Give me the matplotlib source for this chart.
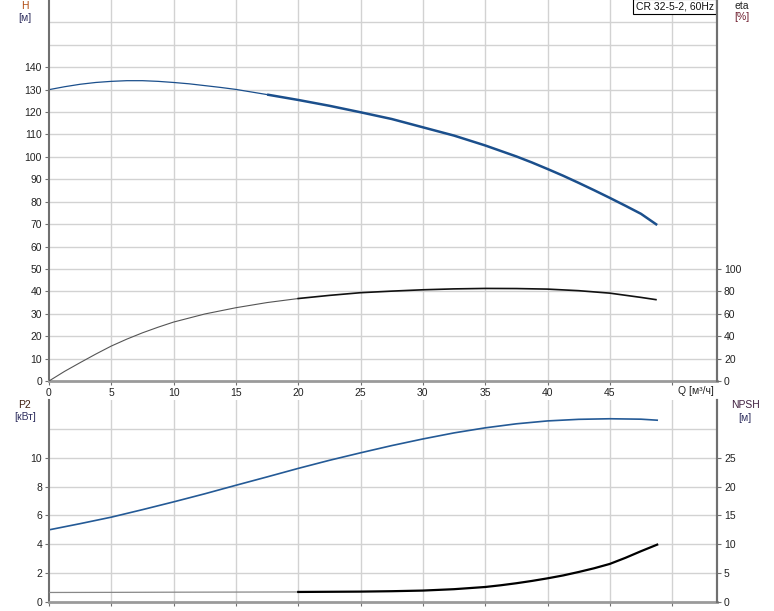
import matplotlib
matplotlib.use("Agg")
import matplotlib.pyplot as plt

plt.rcParams["font.family"] = ["Liberation Sans", "DejaVu Sans"]
plt.rcParams["font.size"] = 7.5

# Q [m3/h] sample points
q_h = [0, 1.25, 2.5, 3.75, 5, 6.25, 7.5, 8.75, 10, 11.25, 12.5, 13.75, 15, 17.5, 20, 22.5, 25, 27.5,
       30, 32.5, 35, 37.5, 38.75, 40, 41.25, 42.5, 43.75, 45, 46.25, 47.5, 48.8]
head = [130, 131.3, 132.4, 133.2, 133.7, 134, 134, 133.7, 133.2, 132.6, 131.8, 131, 130.1, 127.8,
        125.4, 122.8, 119.9, 116.9, 113.2, 109.5, 105.1, 100.2, 97.5, 94.6, 91.6, 88.4, 85.1, 81.7,
        78.2, 74.6, 69.6]

q_eta = [0, 1.25, 2.5, 3.75, 5, 6.25, 7.5, 8.75, 10, 12.5, 15, 17.5, 20, 22.5, 25, 27.5, 30, 32.5,
         35, 37.5, 40, 42.5, 45, 47.5, 48.7]
eta = [0, 8.6, 16.4, 24, 31.2, 37.4, 43, 48, 52.6, 59.8, 65.4, 70, 73.6, 76.4, 78.8, 80.2, 81.4,
       82.2, 82.6, 82.5, 82, 80.6, 78.4, 74.6, 72.6]

q_p2 = [0, 2.5, 5, 7.5, 10, 12.5, 15, 17.5, 20, 22.5, 25, 27.5, 30, 32.5, 35, 37.5, 40, 42.5, 45,
        47.5, 48.8]
p2 = [5.0, 5.43, 5.88, 6.4, 6.94, 7.5, 8.09, 8.67, 9.26, 9.82, 10.34, 10.84, 11.3, 11.72, 12.07,
      12.35, 12.55, 12.66, 12.7, 12.67, 12.6]

q_npsh = [0, 5, 10, 15, 20, 25, 27.5, 30, 32.5, 35, 36.25, 37.5, 38.75, 40, 41.25, 42.5, 43.75, 45,
          46.25, 47.5, 48.8]
npsh = [1.65, 1.67, 1.7, 1.72, 1.74, 1.8, 1.87, 1.98, 2.22, 2.6, 2.9, 3.25, 3.65, 4.1, 4.6, 5.2,
        5.85, 6.6, 7.65, 8.8, 9.94]

x_ticks = [0, 5, 10, 15, 20, 25, 30, 35, 40, 45]
h_ticks = list(range(0, 150, 10))
eta_ticks = list(range(0, 120, 20))
p2_ticks = list(range(0, 12, 2))
npsh_ticks = list(range(0, 30, 5))

W, H = 774, 611
fig = plt.figure(figsize=(W / 100, H / 100), dpi=100)

L, R = 49 / W, (717 - 49) / W
ax1 = fig.add_axes([L, 1 - 381 / H, R, 381 / H])
ax2 = fig.add_axes([L, 1 - 602 / H, R, 202 / H])

grid_c = "#d2d2d2"
spine_c = "#707070"
text_c = "#222222"


def style(ax, ylim, yticks, grid_step):
    ax.set_xlim(0, 53.6)
    ax.set_ylim(*ylim)
    for x in range(5, 55, 5):
        ax.axvline(x, color=grid_c, lw=1, zorder=0)
    y = grid_step
    while y < ylim[1] - 1e-9:
        ax.axhline(y, color=grid_c, lw=1, zorder=0)
        y += grid_step
    ax.set_yticks(yticks)
    ax.spines["top"].set_visible(False)
    ax.spines["right"].set_color(spine_c)
    ax.spines["right"].set_linewidth(1.5)
    ax.spines["left"].set_color(spine_c)
    ax.spines["left"].set_linewidth(1.5)
    ax.spines["bottom"].set_color("#9a9a9a")
    ax.spines["bottom"].set_linewidth(2)
    ax.tick_params(axis="y", length=3, width=0.8, color=spine_c, pad=2, labelcolor=text_c)
    ax.tick_params(axis="x", length=3, width=0.8, color=spine_c, pad=2, labelcolor=text_c)


style(ax1, (0, 170), h_ticks, 10)
ax1.set_xticks(x_ticks + [50])
ax1.set_xticklabels([str(v) for v in x_ticks] + [""])

style(ax2, (0, 14), p2_ticks, 2)
ax2.set_xticks(x_ticks + [50])
ax2.set_xticklabels([])

ax1e = ax1.twinx()
ax1e.set_ylim(0, 340)
ax1e.set_yticks(eta_ticks)
ax2n = ax2.twinx()
ax2n.set_ylim(0, 35)
ax2n.set_yticks(npsh_ticks)
for ax in (ax1e, ax2n):
    for s in ("top", "left", "bottom"):
        ax.spines[s].set_visible(False)
    ax.spines["right"].set_color(spine_c)
    ax.spines["right"].set_linewidth(1.5)
    ax.tick_params(axis="y", length=3, width=0.8, color=spine_c, pad=2, labelcolor=text_c)

# curves: thin part at low flow, heavier in the working range
blue = "#1b4f8c"
n = q_h.index(17.5)
ax1.plot(q_h[:n + 1], head[:n + 1], color=blue, lw=0.9)
ax1.plot(q_h[n:], head[n:], color=blue, lw=1.8, solid_capstyle="butt")

m = q_eta.index(20)
ax1e.plot(q_eta[:m + 1], eta[:m + 1], color="#555555", lw=0.8)
ax1e.plot(q_eta[m:], eta[m:], color="#111111", lw=1.2)

ax2.plot(q_p2, p2, color="#245a96", lw=1.2)

k = q_npsh.index(20)
ax2n.plot(q_npsh[:k + 1], npsh[:k + 1], color="#888888", lw=0.9)
ax2n.plot(q_npsh[k:], npsh[k:], color="#000000", lw=1.6)

# axis titles
fig.text(25 / W, 1 - 6 / H, "H", ha="center", va="center", color="#b04a10")
fig.text(25 / W, 1 - 18 / H, "[м]", ha="center", va="center", color="#303060")
fig.text(742 / W, 1 - 6 / H, "eta", ha="center", va="center", color=text_c)
fig.text(742 / W, 1 - 17 / H, "[%]", ha="center", va="center", color="#702030")
fig.text(25 / W, 1 - 405 / H, "P2", ha="center", va="center", color="#402010")
fig.text(25 / W, 1 - 417 / H, "[кВт]", ha="center", va="center", color="#303060")
fig.text(745 / W, 1 - 405 / H, "NPSH", ha="center", va="center", color="#402040")
fig.text(745 / W, 1 - 418 / H, "[м]", ha="center", va="center", color="#303060")
fig.text(714 / W, 1 - 391 / H, "Q [м³/ч]", ha="right", va="center", color=text_c)

ax1.text(0.995, 0.997, "CR 32-5-2, 60Hz", transform=ax1.transAxes, ha="right", va="top",
         color="#111111", bbox=dict(boxstyle="square,pad=0.25", fc="white", ec="black", lw=0.8),
         zorder=5)

fig.savefig("out.png", dpi=100)
